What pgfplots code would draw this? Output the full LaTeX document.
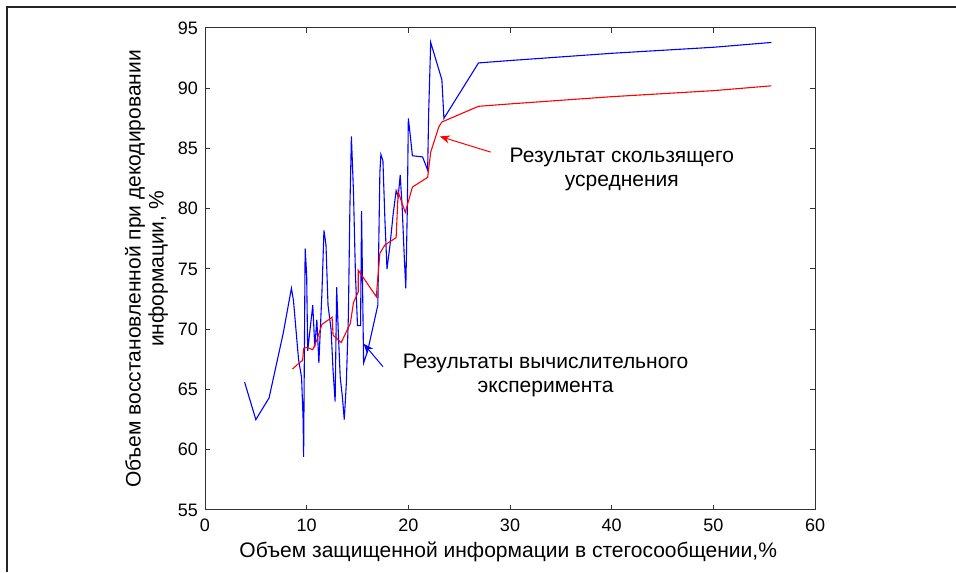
\documentclass[border=0pt]{standalone}
\usepackage{fontspec}
\setmainfont{Liberation Sans}
\usepackage{pgfplots}
\pgfplotsset{compat=1.18}
\usetikzlibrary{arrows.meta}
\begin{document}
\begin{tikzpicture}
\path[use as bounding box] (0,0) rectangle (478pt,286pt);
\draw[line width=1pt, black!85] (3.5pt,0) -- (3.5pt,282.5pt) -- (478pt,282.5pt);
\begin{axis}[
  at={(102.5pt,31pt)}, anchor=south west,
  scale only axis, width=305pt, height=241pt,
  xmin=0, xmax=60, ymin=55, ymax=95,
  xtick={0,10,...,60}, ytick={55,60,...,95},
  tick align=inside, tick pos=both, major tick length=2.5pt,
  axis line style={line width=0.5pt, black!80},
  every tick/.style={black!80, line width=0.5pt},
  /pgf/number format/assume math mode=true,
  tick label style={font=\fontsize{9}{10}\selectfont},
  xticklabel style={yshift=-1pt},
  label style={font=\fontsize{10.5}{11.5}\selectfont},
  xlabel={Объем защищенной информации в стегосообщении,\%},
  ylabel={Объем восстановленной при декодировании\\информации, \%},
  xlabel style={at={(axis description cs:0.497,-0.087)}, anchor=center},
  ylabel style={at={(axis description cs:-0.096,0.5)}, anchor=center, align=center},
  clip=false,
]
\addplot[blue, line width=0.55pt] coordinates {
(3.9,65.6) (5.0,62.5) (6.3,64.3) (7.7,69.7) (8.5,73.4) (8.7,72.4) (9.2,67.5) (9.5,66.0) (9.65,62.5) (9.7,59.4)
(9.85,76.7) (10.0,74.5) (10.1,68.2) (10.4,70.5) (10.6,72.0) (10.8,68.5) (11.0,70.8) (11.2,67.2) (11.5,73.0)
(11.7,78.2) (11.9,77.0) (12.1,72.0) (12.4,70.0) (12.6,66.5) (12.8,64.0) (12.95,73.5) (13.1,70.0) (13.3,66.0)
(13.5,64.5) (13.7,62.5) (13.9,65.5) (14.1,71.0) (14.25,80.0) (14.4,86.0) (14.6,81.5) (14.8,74.5) (15.0,70.3)
(15.3,70.3) (15.4,79.8) (15.6,67.2) (16.0,68.2) (17.0,72.0) (17.2,83.0) (17.3,84.5) (17.5,84.0) (17.7,79.0)
(17.9,75.0) (18.2,77.0) (18.5,79.5) (18.8,81.5) (19.0,81.0) (19.2,82.8) (19.4,80.0) (19.6,76.0) (19.75,73.4)
(19.9,80.0) (20.0,87.5) (20.2,86.0) (20.4,84.4) (21.4,84.3) (21.9,83.2) (22.0,88.0) (22.2,93.8) (23.3,90.7)
(23.5,87.5) (26.9,92.1) (30,92.3) (40,92.9) (50,93.4) (55.7,93.8)
};
\addplot[red, line width=0.55pt] coordinates {
(8.6,66.7) (9.4,67.3) (9.6,67.4) (9.7,68.4) (10.0,68.5) (10.6,68.3) (11.0,69.1) (11.5,70.4) (12.5,71.0)
(12.6,69.5) (13.4,68.9) (14.3,70.5) (14.6,72.2) (15.07,73.1) (15.07,74.9) (16.85,72.7) (17.2,76.3)
(17.7,77.0) (18.8,77.6) (19.0,81.4) (19.7,79.7) (20.4,81.8) (21.9,82.6) (22.2,84.7) (23.0,86.8) (23.3,87.2)
(26.9,88.5) (30,88.7) (40,89.3) (50,89.8) (55.7,90.2)
};
\draw[red, line width=0.5pt, -{Stealth[length=5pt,width=4pt]}] (axis cs:28.1,84.7) -- (axis cs:23.1,86.0);
\draw[blue, line width=0.5pt, -{Stealth[length=5pt,width=4pt]}] (axis cs:17.5,66.9) -- (axis cs:15.6,68.8);
\node[align=center, font=\fontsize{10.5}{12}\selectfont] at (axis cs:41.0,83.3) {Результат скользящего\\усреднения};
\node[align=center, font=\fontsize{10.5}{12}\selectfont] at (axis cs:33.5,66.2) {Результаты вычислительного\\эксперимента};
\end{axis}
\end{tikzpicture}
\end{document}
